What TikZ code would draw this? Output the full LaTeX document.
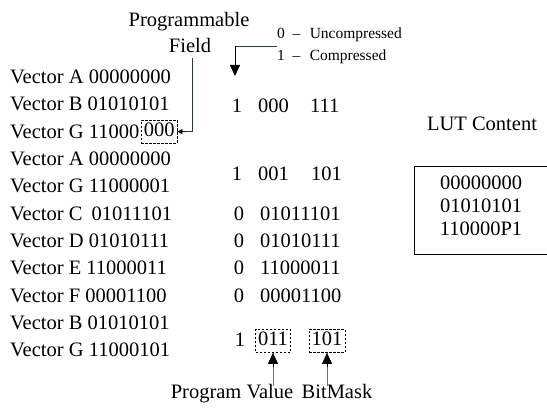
\documentclass[tikz,border=0pt]{standalone}
\usepackage{fontspec}
\setmainfont{Liberation Serif}
\usetikzlibrary{arrows.meta}
\definecolor{leadgreen}{RGB}{30,72,30}
\definecolor{leadgray}{RGB}{110,110,110}
\begin{document}
\begin{tikzpicture}[x=1pt,y=-1pt,
  txt/.style={inner sep=0pt,anchor=west,font=\fontsize{20.5}{24}\selectfont},
  ctxt/.style={inner sep=0pt,font=\fontsize{20.5}{24}\selectfont},
  btxt/.style={inner sep=0pt,anchor=base,font=\fontsize{20.5}{24}\selectfont},
  small/.style={inner sep=0pt,anchor=west,font=\fontsize{15.5}{22}\selectfont,align=left},
  dbox/.style={draw,dash pattern=on 2.5pt off 1.5pt,line width=0.75pt,inner sep=2.5pt,
    text height=14pt,text depth=4pt,font=\fontsize{20.5}{24}\selectfont},
  lead/.style={line width=0.8pt},
  tip/.style={-{Triangle[length=11pt,width=10pt]}},
  smalltip/.style={-{Triangle[length=5pt,width=5pt]}}]
\useasboundingbox (0,0) rectangle (547,414);

% titles
\node[btxt] (prog) at (189,27) {Programmable};
\node[btxt] (field) at (190,53) {Field};
\node[small] (legend) at (277,46) {0\hspace{0.5em}–\hspace{0.6em}Uncompressed\\1\hspace{0.5em}–\hspace{0.6em}Compressed};
\coordinate (legtip) at (235,76);

% left column
\node[txt] (a1) at (10,77) {Vector A 00000000};
\node[txt] (b1) at (10,104.3) {Vector B 01010101};
\node[txt] (g1) at (10,131.6) {Vector G 11000};
\node[dbox,anchor=west,xshift=1.5pt] (f000) at (g1.east) {000};
\node[txt] (a2) at (10,158.9) {Vector A 00000000};
\node[txt] (g2) at (10,186.2) {Vector G 11000001};
\node[txt] (c) at (10,213.5) {Vector C\hspace{0.45em}01011101};
\node[txt] (d) at (10,240.8) {Vector D 01010111};
\node[txt] (e) at (10,268.1) {Vector E 11000011};
\node[txt] (f) at (10,295.4) {Vector F 00001100};
\node[txt] (b3) at (10,322.7) {Vector B 01010101};
\node[txt] (g3) at (10,350) {Vector G 11000101};

% middle column
\node[ctxt] (m1a) at (237,106) {1};
\node[txt] (m1b) at (258,106) {000};
\node[txt] (m1c) at (310,106) {111};
\node[ctxt] (m2a) at (237,174) {1};
\node[txt] (m2b) at (258,174) {001};
\node[txt] (m2c) at (311,174) {101};
\node[ctxt] (mc0) at (239,213.5) {0};
\node[txt] (mc) at (260,213.5) {01011101};
\node[ctxt] (md0) at (239,240.8) {0};
\node[txt] (md) at (260,240.8) {01010111};
\node[ctxt] (me0) at (239,268.1) {0};
\node[txt] (me) at (260,268.1) {11000011};
\node[ctxt] (mf0) at (239,295.4) {0};
\node[txt] (mf) at (260,295.4) {00001100};
\node[ctxt] (m3a) at (240,340) {1};
\node[dbox] (pv) at (273,341) {011};
\node[dbox] (bm) at (327,341) {101};

% bottom labels
\node[btxt] (pvl) at (232,399) {Program Value};
\node[btxt] (bml) at (337,399) {BitMask};

% LUT
\node[btxt] (luth) at (482,131) {LUT Content};
\node[ctxt,align=center,font=\fontsize{20.5}{23}\selectfont] (lut) at (481,206) {00000000\\01010101\\110000P1};
\draw[line width=0.8pt] (548,166) -- (414,166) -- (414,254) -- (548,254);

% connectors
\draw[lead,leadgreen] ([xshift=2pt]field.south) ++(0,5) |- (f000.east);
\draw[lead,smalltip] ([xshift=8pt]f000.east) -- (f000.east);
\draw[lead,leadgreen] (legend.west) -- (legend.west -| legtip);
\draw[lead,tip] (legend.west -| legtip) -- (legtip);
\draw[lead,leadgray] ([yshift=-1pt]pv.south |- pvl.north) -- (pv.south);
\draw[lead,tip] ([yshift=-14pt]pv.south) -- (pv.south);
\draw[lead,leadgray] ([yshift=-1pt]bm.south |- bml.north) -- (bm.south);
\draw[lead,tip] ([yshift=-14pt]bm.south) -- (bm.south);
\end{tikzpicture}
\end{document}
